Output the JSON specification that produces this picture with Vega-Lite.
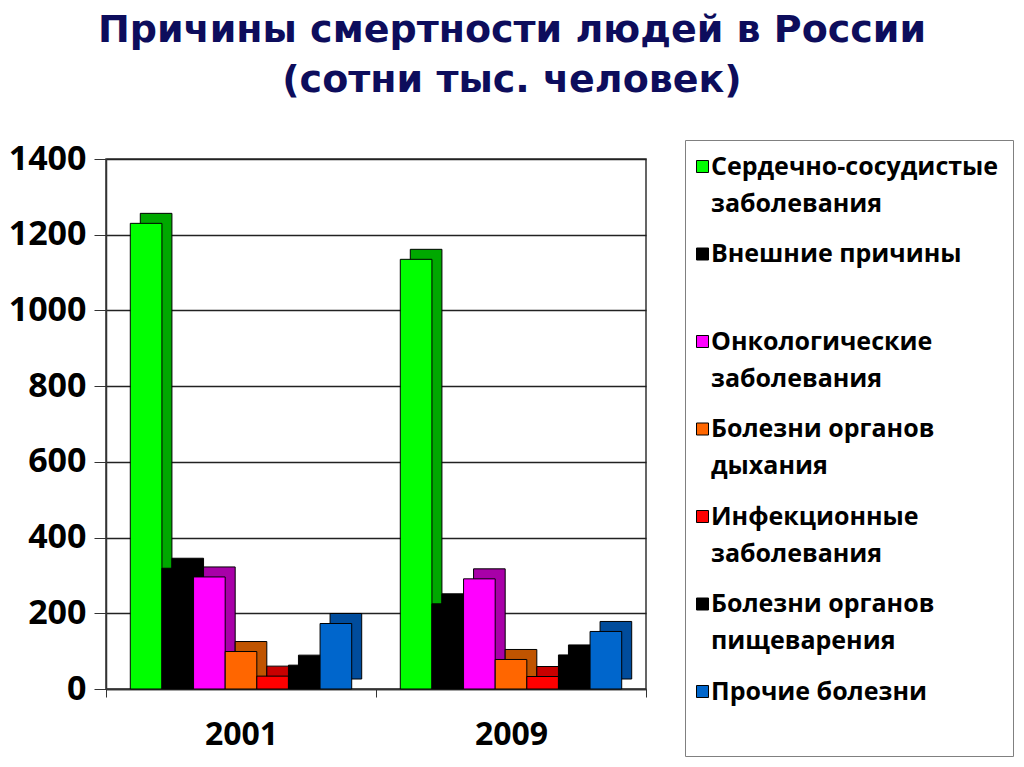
{
  "$schema": "https://vega.github.io/schema/vega-lite/v6.json",
  "autosize": "none",
  "width": 540,
  "height": 530,
  "padding": {"left": 106, "top": 159, "right": 378, "bottom": 78},
  "background": "white",
  "title": {
    "text": ["Причины смертности людей в России", "(сотни тыс. человек)"],
    "font": "DejaVu Sans",
    "fontSize": 38,
    "fontWeight": "bold",
    "color": "#0d0d5c",
    "anchor": "middle",
    "frame": "group",
    "dx": 136,
    "offset": 40,
    "lineHeight": 50
  },
  "data": {
    "values": [
      {"year": "2001", "cause": "Сердечно-сосудистые заболевания", "value": 1230},
      {"year": "2001", "cause": "Внешние причины", "value": 319},
      {"year": "2001", "cause": "Онкологические заболевания", "value": 296},
      {"year": "2001", "cause": "Болезни органов дыхания", "value": 99},
      {"year": "2001", "cause": "Инфекционные заболевания", "value": 34},
      {"year": "2001", "cause": "Болезни органов пищеварения", "value": 63},
      {"year": "2001", "cause": "Прочие болезни", "value": 173},
      {"year": "2009", "cause": "Сердечно-сосудистые заболевания", "value": 1135},
      {"year": "2009", "cause": "Внешние причины", "value": 225},
      {"year": "2009", "cause": "Онкологические заболевания", "value": 291},
      {"year": "2009", "cause": "Болезни органов дыхания", "value": 78},
      {"year": "2009", "cause": "Инфекционные заболевания", "value": 33},
      {"year": "2009", "cause": "Болезни органов пищеварения", "value": 90},
      {"year": "2009", "cause": "Прочие болезни", "value": 152}
    ]
  },
  "encoding": {
    "x": {
      "field": "year",
      "type": "nominal",
      "scale": {"paddingInner": 0, "paddingOuter": 0},
      "axis": {
        "title": null,
        "labelAngle": 0,
        "labelFont": "Open Sans",
        "labelFontSize": 32,
        "labelFontWeight": "bold",
        "labelColor": "#000",
        "labelPadding": 22,
        "tickBand": "extent",
        "tickSize": 8,
        "tickColor": "#333",
        "domainColor": "#333",
        "domainWidth": 1.5
      }
    },
    "y": {
      "field": "value",
      "type": "quantitative",
      "scale": {"domain": [0, 1400], "nice": false},
      "axis": {
        "title": null,
        "values": [0, 200, 400, 600, 800, 1000, 1200, 1400],
        "format": "d",
        "labelFont": "Open Sans",
        "labelFontSize": 34,
        "labelFontWeight": "bold",
        "labelColor": "#000",
        "labelPadding": 8,
        "tickSize": 12,
        "tickColor": "#333",
        "domainColor": "#333",
        "domainWidth": 1.5,
        "gridColor": "#222",
        "gridWidth": 1.5
      }
    }
  },
  "layer": [
    {
      "mark": {"type": "bar", "yOffset": -10, "stroke": "#000", "strokeWidth": 1},
      "encoding": {
        "xOffset": {
          "field": "cause",
          "type": "nominal",
          "sort": ["Сердечно-сосудистые заболевания", "Внешние причины", "Онкологические заболевания", "Болезни органов дыхания", "Инфекционные заболевания", "Болезни органов пищеварения", "Прочие болезни"],
          "scale": {"paddingInner": 0, "paddingOuter": 0.768, "range": [10, 280]}
        },
        "color": {
          "field": "cause",
          "type": "nominal",
          "scale": {
            "domain": ["Сердечно-сосудистые заболевания", "Внешние причины", "Онкологические заболевания", "Болезни органов дыхания", "Инфекционные заболевания", "Болезни органов пищеварения", "Прочие болезни"],
            "range": ["#00a800", "#000000", "#a800a8", "#c05400", "#c80000", "#000000", "#004c9c"]
          },
          "legend": null
        }
      }
    },
    {
      "mark": {"type": "bar", "stroke": "#000", "strokeWidth": 1},
      "encoding": {
        "xOffset": {
          "field": "cause",
          "type": "nominal",
          "sort": ["Сердечно-сосудистые заболевания", "Внешние причины", "Онкологические заболевания", "Болезни органов дыхания", "Инфекционные заболевания", "Болезни органов пищеварения", "Прочие болезни"],
          "scale": {"paddingInner": 0, "paddingOuter": 0.768}
        },
        "color": {
          "field": "cause",
          "type": "nominal",
          "scale": {
            "domain": ["Сердечно-сосудистые заболевания", "Внешние причины", "Онкологические заболевания", "Болезни органов дыхания", "Инфекционные заболевания", "Болезни органов пищеварения", "Прочие болезни"],
            "range": ["#00ff00", "#000000", "#ff00ff", "#ff6600", "#ff0000", "#000000", "#0066cc"]
          },
          "legend": {
            "title": null,
            "orient": "none",
            "legendX": 579,
            "legendY": -19,
            "symbolType": "square",
            "symbolSize": 144,
            "symbolStrokeColor": "#000",
            "symbolStrokeWidth": 1,
            "symbolOffset": -9,
            "labelFont": "Open Sans",
            "labelFontSize": 25,
            "labelFontWeight": "bold",
            "labelColor": "#000",
            "labelLimit": 0,
            "labelOffset": -4,
            "rowPadding": 24.5,
            "padding": 14,
            "strokeColor": "#808080",
            "fillColor": "white",
            "labelExpr": "datum.label == 'Сердечно-сосудистые заболевания' ? ['Сердечно-сосудистые', 'заболевания'] : datum.label == 'Внешние причины' ? ['Внешние причины', ''] : datum.label == 'Онкологические заболевания' ? ['Онкологические', 'заболевания'] : datum.label == 'Болезни органов дыхания' ? ['Болезни органов', 'дыхания'] : datum.label == 'Инфекционные заболевания' ? ['Инфекционные', 'заболевания'] : datum.label == 'Болезни органов пищеварения' ? ['Болезни органов', 'пищеварения'] : ['Прочие болезни', '']"
          }
        }
      }
    }
  ],
  "resolve": {"scale": {"color": "independent", "xOffset": "independent"}},
  "config": {
    "view": {"stroke": "#333", "strokeWidth": 1.5},
    "style": {"guide-label": {"lineHeight": 37}}
  }
}
